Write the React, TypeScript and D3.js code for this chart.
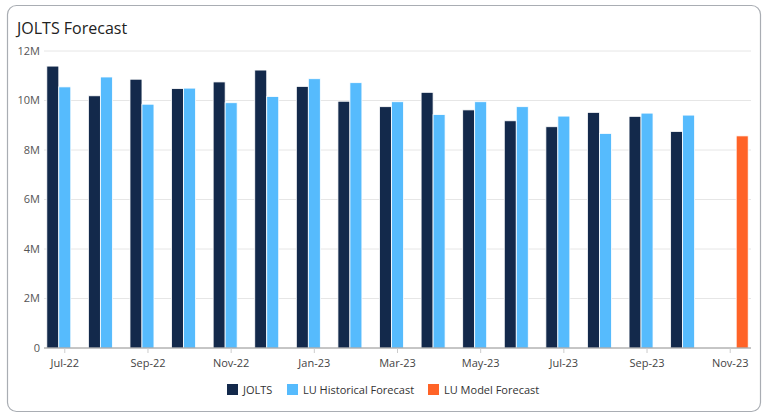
import React from 'react';
import * as d3 from 'd3';

const months = [
  'Jul-22', 'Aug-22', 'Sep-22', 'Oct-22', 'Nov-22', 'Dec-22',
  'Jan-23', 'Feb-23', 'Mar-23', 'Apr-23', 'May-23', 'Jun-23',
  'Jul-23', 'Aug-23', 'Sep-23', 'Oct-23', 'Nov-23',
];

// values in millions
const jolts: (number | null)[] = [
  11.39, 10.19, 10.86, 10.48, 10.75, 11.23,
  10.57, 9.97, 9.75, 10.33, 9.62, 9.18,
  8.94, 9.52, 9.36, 8.75, null,
];
const luHistorical: (number | null)[] = [
  10.55, 10.95, 9.85, 10.5, 9.91, 10.16,
  10.88, 10.72, 9.95, 9.43, 9.95, 9.75,
  9.37, 8.67, 9.49, 9.41, null,
];
const luModel: (number | null)[] = [
  null, null, null, null, null, null,
  null, null, null, null, null, null,
  null, null, null, null, 8.57,
];

const seriesNames = ['JOLTS', 'LU Historical Forecast', 'LU Model Forecast'];
const seriesColors = ['#13294b', '#56bbfd', '#ff6327'];
const yTicks = [0, 2, 4, 6, 8, 10, 12];

const W = 768;
const H = 418;
const margin = { top: 51, right: 17, bottom: 70, left: 44 };
const font = '"Open Sans", "Noto Sans", sans-serif';

export default function App() {
  const series = [jolts, luHistorical, luModel];

  const x0 = d3.scaleBand<string>()
    .domain(months)
    .range([margin.left, W - margin.right])
    .paddingInner(0.135)
    .paddingOuter(0.0675);

  const x1 = d3.scaleBand<number>()
    .domain([0, 1, 2])
    .range([0, x0.bandwidth()])
    .padding(0);

  const y = d3.scaleLinear()
    .domain([0, 12])
    .range([H - margin.bottom, margin.top]);

  const fmt = (v: number) => (v === 0 ? '0' : `${v}M`);

  const legendX = [227, 287, 428];

  return (
    <svg width={W} height={H} style={{ position: 'absolute', left: 0, top: 0 }} fontFamily={font}>
      <rect x={7.5} y={5.5} width={753} height={406} rx={9} fill="#fff" stroke="#a9adb3" strokeWidth={1.2} />
      <text x={17} y={34} fontSize={16} fill="#222">JOLTS Forecast</text>

      {/* grid + y labels */}
      {yTicks.map(t => (
        <g key={t}>
          {t !== 0 && (
            <line x1={margin.left} x2={W - margin.right} y1={y(t)} y2={y(t)} stroke="#e6e6e6" />
          )}
          <text x={40} y={y(t)} dy="0.35em" textAnchor="end" fontSize={11} fill="#555">{fmt(t)}</text>
        </g>
      ))}

      {/* bars */}
      {series.map((vals, si) => (
        <g key={si} fill={seriesColors[si]}>
          {vals.map((v, i) => v == null ? null : (
            <rect
              key={i}
              x={(x0(months[i]) ?? 0) + (x1(si) ?? 0)}
              y={y(v)}
              width={x1.bandwidth()}
              height={y(0) - y(v)}
              stroke="#fff"
              strokeWidth={0.8}
            />
          ))}
        </g>
      ))}

      {/* x axis */}
      <line x1={margin.left} x2={W - margin.right} y1={y(0)} y2={y(0)} stroke="#8c8c8c" />
      {months.map((m, i) => i % 2 !== 0 ? null : (
        <g key={m} transform={`translate(${(x0(m) ?? 0) + x0.bandwidth() / 2},${y(0)})`}>
          <line y1={0} y2={5} stroke="#ccc" />
          <text y={19} textAnchor="middle" fontSize={11} fill="#444">{m}</text>
        </g>
      ))}

      {/* legend */}
      {seriesNames.map((name, i) => (
        <g key={name} transform={`translate(${legendX[i]},384)`}>
          <rect width={11} height={11} fill={seriesColors[i]} />
          <text x={16} y={10} fontSize={11} fill="#333">{name}</text>
        </g>
      ))}
    </svg>
  );
}
